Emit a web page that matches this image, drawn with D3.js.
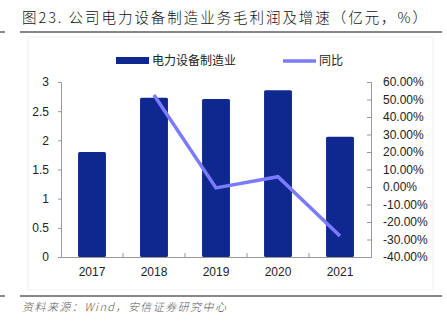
<!DOCTYPE html>
<html>
<head>
<meta charset="utf-8">
<script src="https://cdn.jsdelivr.net/npm/d3@7"></script>
<style>
  body { margin: 0; background: #fff; }
  svg { display: block; font-family: "Liberation Sans", Arial, "Noto Sans CJK SC", sans-serif; }
  .axis path, .axis line { stroke: #999; }
  .axis text { font-size: 12px; fill: #222; }
</style>
</head>
<body>
<svg width="447" height="326"></svg>
<script>
const years = ["2017", "2018", "2019", "2020", "2021"]
const profit = [1.80, 2.73, 2.71, 2.86, 2.06]
const growth = [null, 52.6, -0.5, 5.9, -28.0]
const leftTicks = [0, 0.5, 1, 1.5, 2, 2.5, 3]
const rightTicks = [-40, -30, -20, -10, 0, 10, 20, 30, 40, 50, 60]

const svg = d3.select("svg"),
      margin = {top: 82, right: 76, bottom: 69, left: 61},
      width = 447 - margin.left - margin.right,
      height = 326 - margin.top - margin.bottom,
      g = svg.append("g").attr("transform", "translate(" + margin.left + "," + margin.top + ")")

const x = d3.scaleBand().domain(years).range([0, width]).paddingInner(0.55).paddingOuter(0.275),
      y = d3.scaleLinear().domain([0, 3]).range([height, 0]),
      y2 = d3.scaleLinear().domain([-40, 60]).range([height, 0])

// title + rules
svg.append("text").attr("x", 22).attr("y", 23)
  .attr("textLength", 405).attr("lengthAdjust", "spacing")
  .style("font-family", "'Noto Sans CJK SC', sans-serif").style("font-size", "14.5px")
  .style("font-weight", 300).style("fill", "#111")
  .text("图23. 公司电力设备制造业务毛利润及增速（亿元，%）")
svg.append("line").attr("x1", 20).attr("x2", 442).attr("y1", 32).attr("y2", 32).style("stroke", "#111").style("stroke-width", 1.2)
svg.append("line").attr("x1", 0).attr("x2", 5).attr("y1", 32).attr("y2", 32).style("stroke", "#111")
svg.append("rect").attr("x", 28).attr("y", 37).attr("width", 405).attr("height", 253)
  .style("fill", "none").style("stroke", "#f0f0f0")
svg.append("line").attr("x1", 20).attr("x2", 442).attr("y1", 296).attr("y2", 296).style("stroke", "#111").style("stroke-width", 1.2)
svg.append("line").attr("x1", 0).attr("x2", 5).attr("y1", 296).attr("y2", 296).style("stroke", "#111")
svg.append("text").attr("x", 22).attr("y", 311)
  .attr("textLength", 204).attr("lengthAdjust", "spacing")
  .style("font-family", "'Noto Sans CJK SC', sans-serif").style("font-size", "11px")
  .style("font-style", "italic").style("font-weight", 300).style("fill", "#555")
  .text("资料来源：Wind，安信证券研究中心")

// bars
g.selectAll(".bar")
  .data(years.map((d, i) => ({year: d, value: profit[i]})))
  .enter().append("rect")
    .attr("class", "bar")
    .attr("x", d => x(d.year))
    .attr("y", d => y(d.value))
    .attr("width", x.bandwidth())
    .attr("height", d => height - y(d.value))
    .attr("rx", 1.5)
    .style("fill", "#0f288f")

// growth line
const line = d3.line()
  .defined(d => d.value !== null)
  .x(d => x(d.year) + x.bandwidth() / 2)
  .y(d => y2(d.value))

g.append("path")
  .datum(years.map((d, i) => ({year: d, value: growth[i]})))
  .attr("d", line)
  .style("fill", "none").style("stroke", "#7b7bff").style("stroke-width", 3.5)
  .style("stroke-linejoin", "miter").style("stroke-linecap", "butt")

// axes
g.append("g")
  .attr("class", "axis")
  .call(d3.axisLeft(y).tickValues(leftTicks).tickFormat(d3.format("")).tickSize(3).tickPadding(9))

g.append("g")
  .attr("class", "axis")
  .attr("transform", "translate(" + width + ",0)")
  .call(d3.axisRight(y2).tickValues(rightTicks).tickFormat(d => d.toFixed(2) + "%").tickSize(-4).tickPadding(12))

const xAxis = g.append("g")
  .attr("class", "axis")
  .attr("transform", "translate(0," + height + ")")
  .call(d3.axisBottom(x).tickSize(0).tickPadding(8))
xAxis.selectAll(".tick text").attr("dy", "0.9em")
xAxis.selectAll(".sep")
  .data(years.slice(1))
  .enter().append("line")
    .attr("x1", d => x(d) - x.step() * x.paddingInner() / 2)
    .attr("x2", d => x(d) - x.step() * x.paddingInner() / 2)
    .attr("y1", 0).attr("y2", -4)
    .style("stroke", "#999")

// legend
const legend = svg.append("g").style("font-family", "'Noto Sans CJK SC', sans-serif").style("font-size", "12px")
legend.append("rect").attr("x", 116).attr("y", 57).attr("width", 33).attr("height", 7).style("fill", "#0f288f")
legend.append("text").attr("x", 152).attr("y", 65).style("fill", "#222").text("电力设备制造业")
legend.append("line").attr("x1", 283).attr("x2", 316).attr("y1", 61).attr("y2", 61).style("stroke", "#7b7bff").style("stroke-width", 3.5)
legend.append("text").attr("x", 319).attr("y", 65).style("fill", "#222").text("同比")
</script>
</body>
</html>
